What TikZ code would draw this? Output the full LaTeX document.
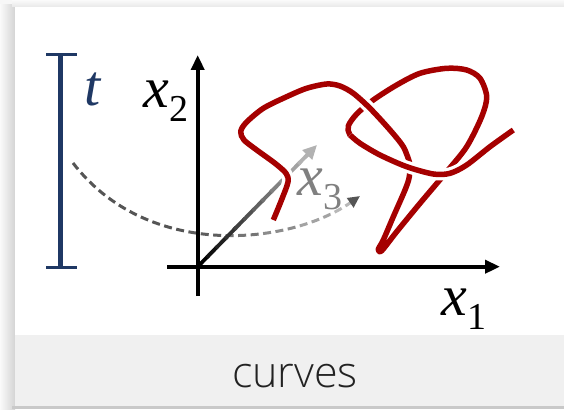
\documentclass[tikz,border=0pt]{standalone}
\usepackage{fontspec}
\usetikzlibrary{arrows.meta,calc}
\IfFontExistsTF{Open Sans Light}{\newfontfamily\capfont{Open Sans Light}}{\newfontfamily\capfont{Open Sans}}
\newfontfamily\labfont{Liberation Serif}
\definecolor{knotred}{RGB}{165,0,0}
\definecolor{tblue}{RGB}{31,56,100}
\definecolor{dashdark}{RGB}{85,85,85}
\definecolor{axlight}{RGB}{178,178,178}
\definecolor{capgray}{RGB}{240,240,240}
\definecolor{captext}{RGB}{34,34,34}
\newcommand\sublab[2]{{\itshape #1}\kern1pt\raisebox{-14pt}{\fontsize{38}{38}\selectfont #2}}
\begin{document}
\begin{tikzpicture}[x=1pt,y=-1pt,
  axisline/.style={line width=4pt, line cap=butt, -{Triangle[length=15pt,width=13pt]}},
  dashcurve/.style={line width=3pt, dash pattern=on 8pt off 4.5pt, -{Triangle[length=12pt,width=11pt,color=dashdark]}},
  knot/.style={draw=knotred, line width=5.5pt, line cap=butt, line join=round},
  overstrand/.style={preaction={draw=white, line width=12pt}},
  mathlab/.style={inner sep=0pt, font=\labfont\fontsize{58}{58}\selectfont}]
\useasboundingbox (0,0) rectangle (564,409);
% background and card
\fill[black!3] (0,0) rectangle (564,409);
\shade[left color=black!2, right color=black!17] (0,5) rectangle (15,409);
\shade[top color=black!2, bottom color=black!9] (12,0) rectangle (564,7);
\fill[white] (15,7) rectangle (575,335);
\fill[capgray] (15,335) rectangle (575,406);
\fill[black!21] (12,406) rectangle (564,409);
\node[anchor=base, inner sep=0pt, text=captext, font=\capfont\fontsize{43}{43}\selectfont] (cap) at (295,387) {curves};
% time bar
\coordinate (Bt) at (60.3,54.3);
\coordinate (Bb) at (60.3,267.7);
\draw[tblue, line width=5pt] (Bt) -- (Bb);
\draw[tblue, line width=3.5pt] ($(Bt)+(-14.3,0)$) -- ($(Bt)+(16.7,0)$);
\draw[tblue, line width=3.5pt] ($(Bb)+(-14.3,0)$) -- ($(Bb)+(16.7,0)$);
\node[mathlab, anchor=base west, text=tblue] (tlab) at (84,106) {\itshape t};
% dashed time arrow with gradient
\coordinate (Ds) at (73,163);
\coordinate (De) at (360,196);
\foreach \xa/\xb/\col in {0/185/dashdark, 185/225/black!63, 225/262/black!54, 262/298/black!45, 298/330/black!36, 330/564/black!28}{
  \begin{scope}
    \clip (\xa,0) rectangle (\xb,409);
    \draw[dashcurve, color=\col] (Ds) .. controls (148,260.5) and (290,245) .. (De);
  \end{scope}
}
% axes
\coordinate (O) at (197.7,266.7);
\coordinate (X1s) at (167,266.7);
\coordinate (X1t) at (500,266.7);
\coordinate (X2s) at (197.7,296);
\coordinate (X2t) at (197.7,55);
\coordinate (X3t) at (317,145);
\draw[axisline] (X1s) -- (X1t);
\draw[axisline] (X2s) -- (X2t);
\foreach \i in {0,...,11}{
  \pgfmathsetmacro\p{100-\i*100/11}
  \draw[line width=3.8pt, line cap=butt, color=black!\p!axlight]
    ($(O)!{\i*0.92/12}!(X3t)$) -- ($(O)!{(\i+1.2)*0.92/12}!(X3t)$);
}
\draw[line width=3.8pt, line cap=butt, color=axlight, -{Triangle[length=14pt,width=13pt]}] ($(O)!0.9!(X3t)$) -- (X3t);
\node[mathlab, anchor=base west] (x2lab) at (143,107) {\sublab{x}{2}};
\node[mathlab, anchor=base west] (x1lab) at (441,315) {\sublab{x}{1}};
\node[mathlab, anchor=base west, text=black!50] (x3lab) at (297,195) {\sublab{x}{3}};
% knot curve
\draw[knot] plot[smooth] coordinates {(403.3,146.7) (409.3,161.7) (409.3,176.7) (405,190) (393.3,216.7) (383.3,240) (378.3,249.3) (381.7,250.7) (396.7,231.7) (420,203.3) (446.7,171.7) (466.7,146.7) (481.7,116.7) (486.7,96.7) (480,78.3) (466.7,70) (446.7,68.3) (420,73.3) (396.7,85) (373.3,100) (356.7,114) (348.3,126) (350,135) (360,143.3) (380,155)};
\draw[knot, overstrand] plot[smooth] coordinates {(273.3,220) (281.5,200) (288,182) (286,173.3) (275,163.3) (256.7,150) (244,140) (240.7,131.7) (246,122.7) (263.3,108.3) (286.7,96.7) (306.7,88.3) (326.7,84) (340,86) (353.3,93.3) (370,108.3) (390,130) (403.3,146.7) (409.3,161.7)};
\draw[knot, overstrand] plot[smooth] coordinates {(350,135) (360,143.3) (380,155) (406.7,166.7) (433.3,174) (450,173.3) (466.7,165) (490,146.7) (513.3,130)};
\end{tikzpicture}
\end{document}
